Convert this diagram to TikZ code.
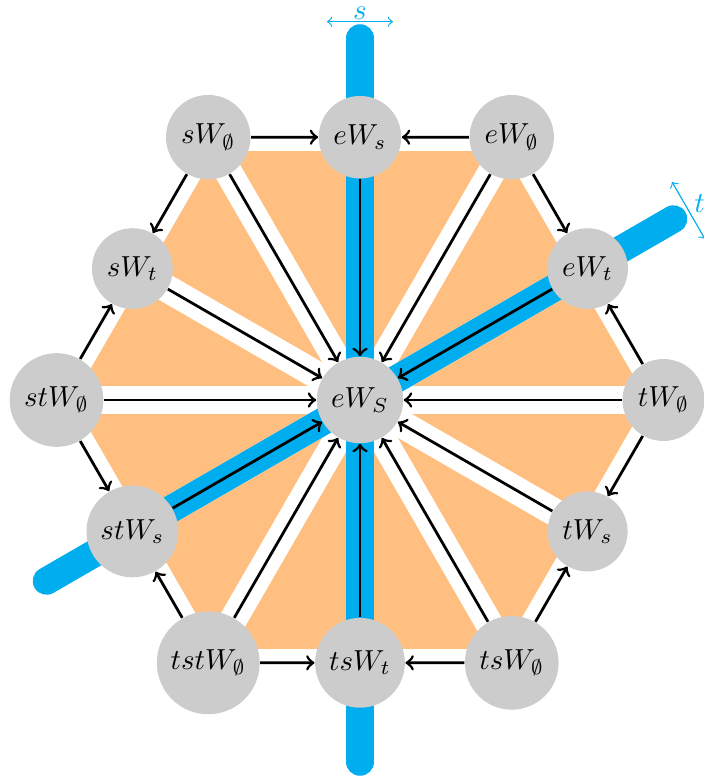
\documentclass[tikz,border=0pt]{standalone}
\definecolor{wallblue}{RGB}{0,174,239}
\begin{document}
\begin{tikzpicture}[x=0.345pt,y=0.345pt,
  st/.style={circle, fill=black!20, inner sep=3.1pt},
  edge/.style={->, line width=0.95pt},
  gap/.style={white, line width=9.5pt},
  wall/.style={line width=9.5pt, draw=wallblue, line cap=round},
  lab/.style={<->, line width=0.4pt, draw=wallblue},
  labtext/.style={text=wallblue, inner sep=0pt}]
\useasboundingbox (-360,-383) rectangle (344,400);
% positions
\coordinate (C) at (0,0);
\coordinate (p0) at (0:303.5);
\coordinate (p1) at (30:262.8);
\coordinate (p2) at (60:303.5);
\coordinate (p3) at (90:262.8);
\coordinate (p4) at (120:303.5);
\coordinate (p5) at (150:262.8);
\coordinate (p6) at (180:303.5);
\coordinate (p7) at (210:262.8);
\coordinate (p8) at (240:303.5);
\coordinate (p9) at (270:262.8);
\coordinate (p10) at (300:303.5);
\coordinate (p11) at (330:262.8);
% orange hexagon
\fill[orange!50] (p0) -- (p2) -- (p4) -- (p6) -- (p8) -- (p10) -- cycle;
% white gaps
\draw[gap, line join=miter] (p0) -- (p2) -- (p4) -- (p6) -- (p8) -- (p10) -- cycle;
\foreach \i in {0,...,11} { \draw[gap] (C) -- (p\i); }
% blue walls
\coordinate (w1) at (90:362);
\coordinate (w2) at (270:362);
\coordinate (w3) at (30:362);
\coordinate (w4) at (210:362);
\draw[wall] (w1) -- (w2);
\draw[wall] (w3) -- (w4);
% wall labels
\coordinate (sa1) at (-33,378.3);
\coordinate (sa2) at (33,378.3);
\draw[lab] (sa1) -- (sa2);
\node[labtext] (sl) at (0,387) {$s$};
\coordinate (ta1) at (312,218.2);
\coordinate (ta2) at (345,161);
\draw[lab] (ta1) -- (ta2);
\node[labtext] (tl) at (339.5,196) {$t$};
% nodes
\node[st] (c) at (C) {$eW_S$};
\node[st] (tO) at (p0) {$tW_\emptyset$};
\node[st] (eT) at (p1) {$eW_t$};
\node[st] (eO) at (p2) {$eW_\emptyset$};
\node[st] (eS) at (p3) {$eW_s$};
\node[st] (sO) at (p4) {$sW_\emptyset$};
\node[st] (sT) at (p5) {$sW_t$};
\node[st] (stO) at (p6) {$stW_\emptyset$};
\node[st] (stS) at (p7) {$stW_s$};
\node[st] (tstO) at (p8) {$tstW_\emptyset$};
\node[st] (tsT) at (p9) {$tsW_t$};
\node[st] (tsO) at (p10) {$tsW_\emptyset$};
\node[st] (tS) at (p11) {$tW_s$};
% hexagon arrows
\draw[edge] (sO) -- (eS);
\draw[edge] (eO) -- (eS);
\draw[edge] (sO) -- (sT);
\draw[edge] (eO) -- (eT);
\draw[edge] (stO) -- (sT);
\draw[edge] (tO) -- (eT);
\draw[edge] (stO) -- (stS);
\draw[edge] (tO) -- (tS);
\draw[edge] (tstO) -- (stS);
\draw[edge] (tsO) -- (tS);
\draw[edge] (tstO) -- (tsT);
\draw[edge] (tsO) -- (tsT);
% spokes
\foreach \n in {tO,eT,eO,eS,sO,sT,stO,stS,tstO,tsT,tsO,tS} { \draw[edge] (\n) -- (c); }
\end{tikzpicture}
\end{document}
